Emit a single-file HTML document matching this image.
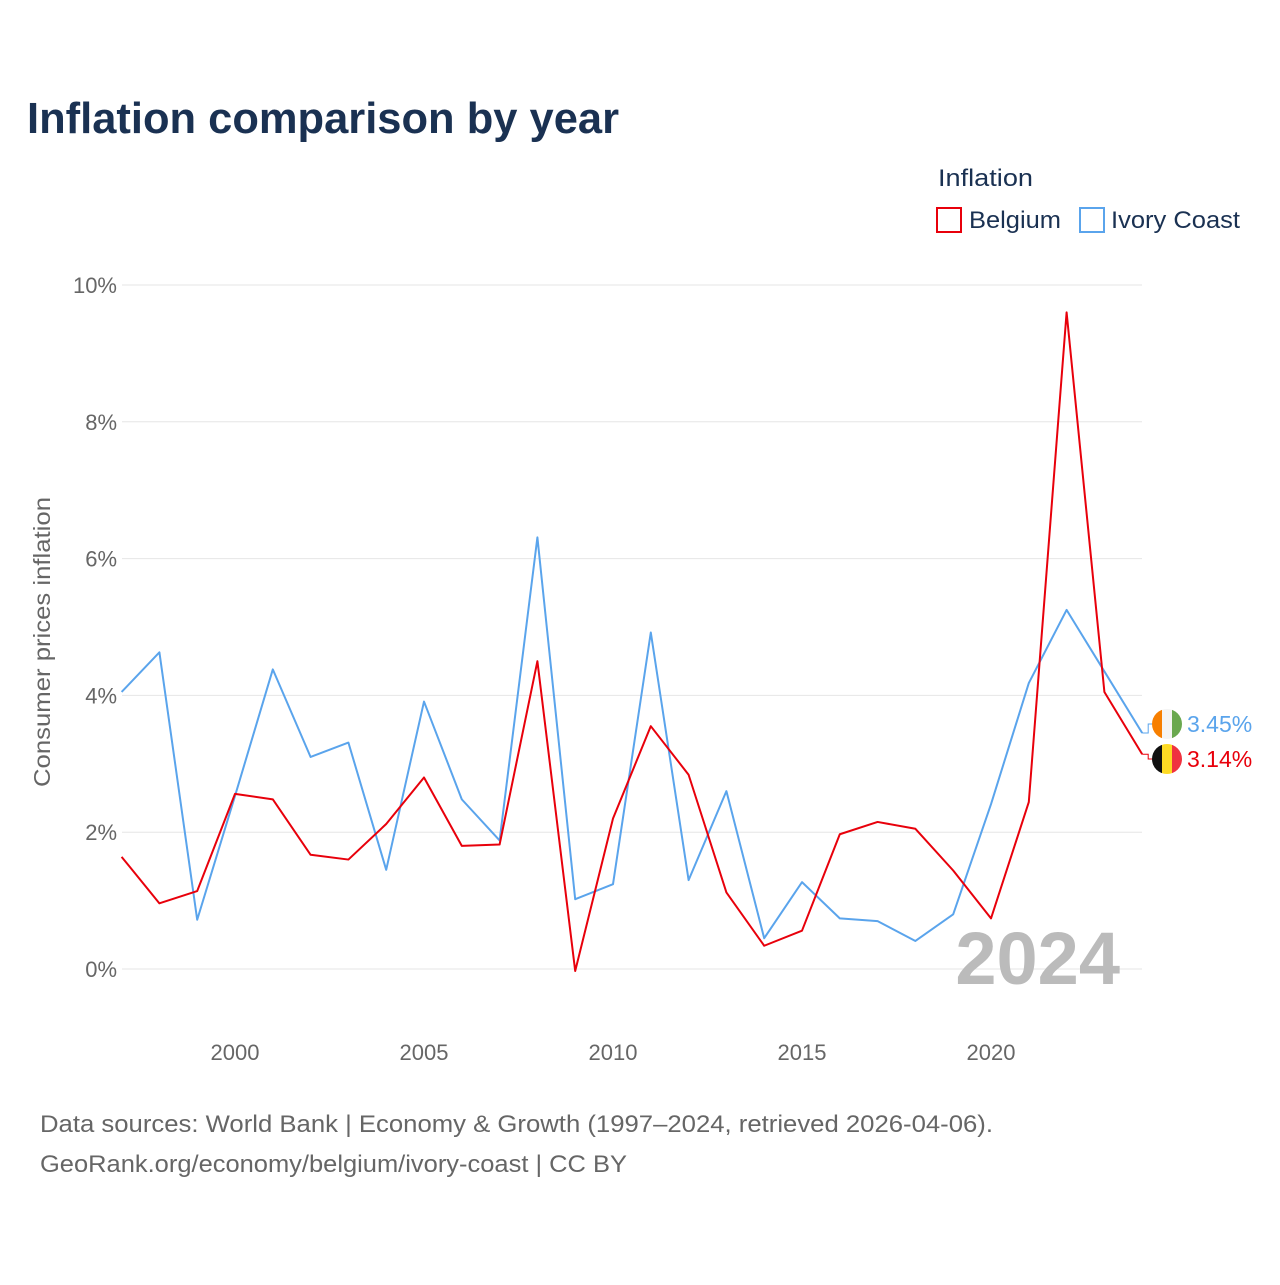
<!DOCTYPE html>
<html><head><meta charset="utf-8"><style>
body{margin:0;background:#fff;font-family:"Liberation Sans",sans-serif}
svg text{font-family:"Liberation Sans",sans-serif}
</style></head><body>
<svg id="chart" width="1280" height="1280" viewBox="0 0 1280 1280">
<text x="27" y="133" font-size="44" font-weight="bold" fill="#1a3152" textLength="592" lengthAdjust="spacingAndGlyphs">Inflation comparison by year</text>
<g>
<text x="938" y="186" font-size="24" fill="#1a3152" textLength="95" lengthAdjust="spacingAndGlyphs">Inflation</text>
<g><rect x="937" y="208" width="24" height="24" fill="none" stroke="#e8000b" stroke-width="2"/><text x="969" y="228" font-size="24" fill="#1a3152" textLength="92" lengthAdjust="spacingAndGlyphs">Belgium</text></g>
<g><rect x="1080" y="208" width="24" height="24" fill="none" stroke="#5aa4ec" stroke-width="2"/><text x="1111" y="228" font-size="24" fill="#1a3152" textLength="129" lengthAdjust="spacingAndGlyphs">Ivory Coast</text></g>
</g>
<g id="grid"></g>
<g id="yticks"></g>
<g id="xticks"></g>
<text transform="translate(50,642) rotate(-90)" text-anchor="middle" font-size="23" fill="#666" textLength="290" lengthAdjust="spacingAndGlyphs">Consumer prices inflation</text>
<text x="1120" y="984" text-anchor="end" font-size="74" font-weight="bold" fill="#bbb">2024</text>
<g id="series"></g>
<text x="40" y="1132" font-size="24" fill="#666" textLength="953" lengthAdjust="spacingAndGlyphs">Data sources: World Bank | Economy &amp; Growth (1997–2024, retrieved 2026-04-06).</text>
<text x="40" y="1172" font-size="24" fill="#666" textLength="587" lengthAdjust="spacingAndGlyphs">GeoRank.org/economy/belgium/ivory-coast | CC BY</text>
</svg>
<script>
const years=[1997,1998,1999,2000,2001,2002,2003,2004,2005,2006,2007,2008,2009,2010,2011,2012,2013,2014,2015,2016,2017,2018,2019,2020,2021,2022,2023,2024];
const belgium=[1.64,0.96,1.14,2.56,2.48,1.67,1.60,2.12,2.80,1.80,1.82,4.50,-0.03,2.20,3.55,2.84,1.12,0.34,0.56,1.97,2.15,2.05,1.44,0.74,2.44,9.60,4.05,3.14];
const ivoryCoast=[4.05,4.63,0.72,2.53,4.38,3.10,3.31,1.45,3.91,2.48,1.88,6.31,1.02,1.24,4.92,1.30,2.60,0.45,1.27,0.74,0.70,0.41,0.80,2.41,4.18,5.25,4.35,3.45];
const yTicks=[0,2,4,6,8,10];
const xTicks=[2000,2005,2010,2015,2020];
const NS="http://www.w3.org/2000/svg";
const x=v=>121.6+(v-1997)*37.8;
const y=v=>969-v*68.4;
function mk(tag,attrs,parent,txt){const e=document.createElementNS(NS,tag);for(const k in attrs)e.setAttribute(k,attrs[k]);if(txt!==undefined)e.textContent=txt;parent.appendChild(e);return e;}
const grid=document.getElementById('grid'),yt=document.getElementById('yticks'),xt=document.getElementById('xticks'),ser=document.getElementById('series');
yTicks.forEach(t=>{
 const l=mk('line',{x1:122,x2:1142,y1:y(t),y2:y(t),stroke:'#e6e6e6','stroke-width':1},grid);
 
 
 const tx=mk('text',{x:117,y:y(t)+8,'text-anchor':'end','font-size':22,fill:'#666'},yt,t+'%');
 
 
});
xTicks.forEach(t=>{
 const tx=mk('text',{x:x(t),y:1060,'text-anchor':'middle','font-size':22,fill:'#666'},xt,t);
 
 
});
function line(vals,color,name){
 const p=mk('polyline',{points:vals.map((v,i)=>x(years[i])+','+y(v)).join(' '),fill:'none',stroke:color,'stroke-width':2,'stroke-linejoin':'round'},ser);
 
 
}
line(ivoryCoast,'#5aa4ec','ivory-coast-line');
line(belgium,'#e8000b','belgium-line');
const last=years.length-1;
function endLabel(v,ly,color,flagCols,name){
 const g=mk('g',{},ser);
 
 
 mk('polyline',{points:`${x(years[last])},${y(v)} ${x(years[last])+6},${y(v)} ${x(years[last])+6},${ly} 1152,${ly}`,fill:'none',stroke:color,'stroke-width':1},g);
 const cx=1167,r=15;
 mk('clipPath',{id:'c'+name},g);
 const cp=g.lastChild;mk('circle',{cx:cx,cy:ly,r:r},cp);
 flagCols.forEach((c,i)=>mk('rect',{x:cx-r+i*10,y:ly-r,width:10,height:30,fill:c,'clip-path':'url(#c'+name+')'},g));
 mk('text',{x:1187,y:ly+8,'font-size':23,fill:color},g,v.toFixed(2)+'%');
}
endLabel(ivoryCoast[last],724,'#5aa4ec',['#f77f00','#f4f4f4','#6aa84f'],'ivory-coast-end-label');
endLabel(belgium[last],759,'#e8000b',['#111','#fdda24','#ef3340'],'belgium-end-label');
</script>
</body></html>
